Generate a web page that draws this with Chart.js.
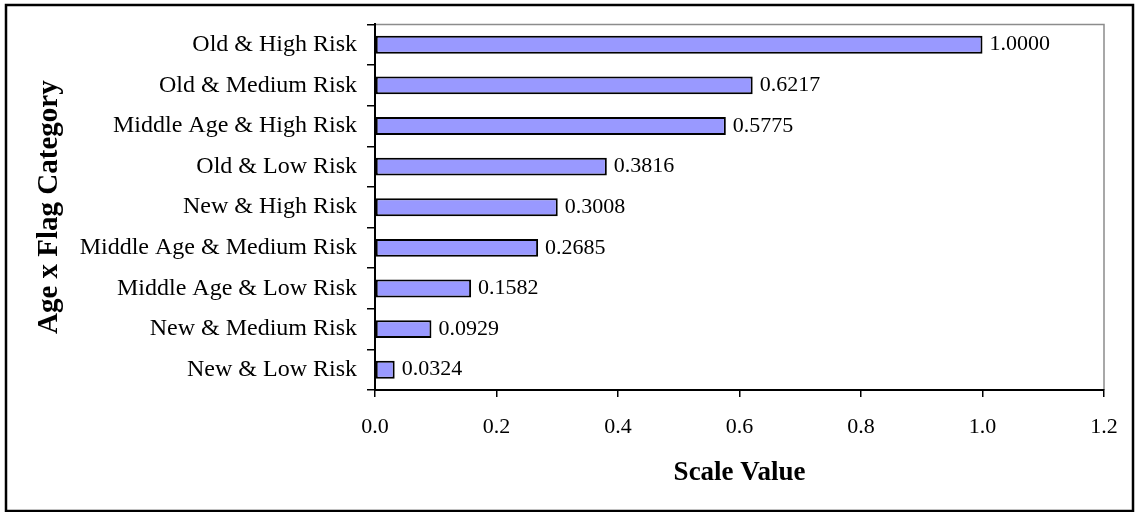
<!DOCTYPE html>
<html lang="en">
<head>
    <meta charset="UTF-8">
    <title>Age x Flag Category</title>
    <script src="https://cdn.jsdelivr.net/npm/chart.js@4.4.0/dist/chart.umd.min.js"></script>
    <style>
        body { margin: 0; background: #fff; }
    </style>
</head>
<body>
    <canvas id="myChart" width="1138" height="512"></canvas>
    <script>
        // categories, top to bottom
        const categories = [
            'Old & High Risk',
            'Old & Medium Risk',
            'Middle Age & High Risk',
            'Old & Low Risk',
            'New & High Risk',
            'Middle Age & Medium Risk',
            'Middle Age & Low Risk',
            'New & Medium Risk',
            'New & Low Risk'
        ];
        const scaleValues = [1.0000, 0.6217, 0.5775, 0.3816, 0.3008, 0.2685, 0.1582, 0.0929, 0.0324];
        const xTicks = [0, 0.2, 0.4, 0.6, 0.8, 1.0, 1.2];

        const serif = '"Liberation Serif", "Times New Roman", serif';

        // outer frame + grey plot-area edges (top and right)
        const framePlugin = {
            id: 'frame',
            beforeDraw(chart) {
                const ctx = chart.ctx;
                const a = chart.chartArea;
                ctx.save();
                ctx.fillStyle = '#fff';
                ctx.fillRect(0, 0, chart.width, chart.height);
                ctx.strokeStyle = '#000';
                ctx.lineWidth = 2.5;
                ctx.strokeRect(6, 5, chart.width - 11, chart.height - 6);
                ctx.strokeStyle = '#8c8c8c';
                ctx.lineWidth = 1.5;
                ctx.beginPath();
                ctx.moveTo(a.left, a.top);
                ctx.lineTo(a.right, a.top);
                ctx.lineTo(a.right, a.bottom);
                ctx.stroke();
                ctx.restore();
            }
        };

        // value printed to the right of each bar
        const valueLabels = {
            id: 'valueLabels',
            afterDatasetsDraw(chart) {
                const ctx = chart.ctx;
                const meta = chart.getDatasetMeta(0);
                ctx.save();
                ctx.font = '22px ' + serif;
                ctx.fillStyle = '#000';
                ctx.textAlign = 'left';
                ctx.textBaseline = 'middle';
                meta.data.forEach((bar, i) => {
                    ctx.fillText(scaleValues[i].toFixed(4), bar.x + 7, bar.y);
                });
                ctx.restore();
            }
        };

        const ctx = document.getElementById('myChart').getContext('2d');
        const myChart = new Chart(ctx, {
            type: 'bar',
            data: {
                labels: categories,
                datasets: [{
                    data: scaleValues,
                    backgroundColor: '#9999ff',
                    borderColor: '#000',
                    borderWidth: 2,
                    borderSkipped: false,
                    categoryPercentage: 1,
                    barPercentage: 0.44
                }]
            },
            options: {
                indexAxis: 'y',
                responsive: false,
                animation: false,
                layout: { padding: { top: 23, right: 34, left: 0, bottom: 0 } },
                plugins: {
                    legend: { display: false },
                    tooltip: { enabled: false }
                },
                scales: {
                    x: {
                        min: 0,
                        max: 1.2,
                        afterFit: s => { s.height = 122; },
                        afterBuildTicks: s => { s.ticks = xTicks.map(v => ({ value: v })); },
                        ticks: {
                            color: '#000',
                            font: { family: serif, size: 22 },
                            padding: 17,
                            callback: v => v.toFixed(1)
                        },
                        grid: { drawOnChartArea: false, color: '#000', tickLength: 7, lineWidth: 1.5 },
                        border: { color: '#000', width: 2 },
                        title: {
                            display: true,
                            text: 'Scale Value',
                            color: '#000',
                            font: { family: serif, size: 27, weight: 'bold' },
                            padding: { top: 0, bottom: 23 }
                        }
                    },
                    y: {
                        afterFit: s => { s.width = 375; },
                        ticks: {
                            color: '#000',
                            font: { family: serif, size: 24 },
                            padding: 10
                        },
                        grid: { offset: true, drawOnChartArea: false, color: '#000', tickLength: 8, lineWidth: 1.5 },
                        border: { color: '#000', width: 2 },
                        title: {
                            display: true,
                            text: 'Age x Flag Category',
                            color: '#000',
                            font: { family: serif, size: 29, weight: 'bold' },
                            padding: { top: 32, bottom: 0 }
                        }
                    }
                }
            },
            plugins: [framePlugin, valueLabels]
        });
    </script>
</body>
</html>
